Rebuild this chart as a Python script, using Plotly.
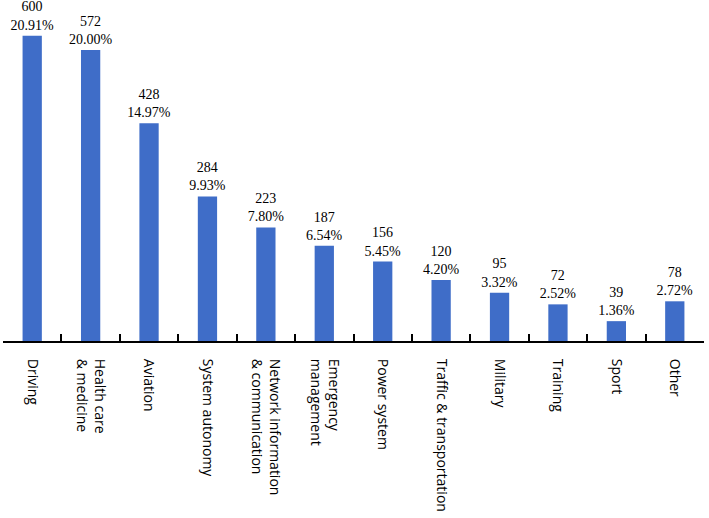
import plotly.graph_objects as go

categories = ["Driving", "Health care<br>& medicine", "Aviation", "System autonomy",
              "Network information<br>& communication", "Emergency<br>management",
              "Power system", "Traffic & transportation", "Military", "Training",
              "Sport", "Other"]
counts = [600, 572, 428, 284, 223, 187, 156, 120, 95, 72, 39, 78]
percents = ["20.91%", "20.00%", "14.97%", "9.93%", "7.80%", "6.54%", "5.45%",
            "4.20%", "3.32%", "2.52%", "1.36%", "2.72%"]

labels = [f"{c}<br>{p}" for c, p in zip(counts, percents)]

fig = go.Figure(go.Bar(
    x=categories, y=counts, text=labels, textposition="outside",
    constraintext="none", cliponaxis=False,
    textfont=dict(family="Liberation Serif", size=14, color="black"),
    marker=dict(color="#3F6DC8", line=dict(width=0)),
    width=0.33,
))

fig.update_layout(
    width=709, height=518,
    margin=dict(l=3, r=5, t=0, b=177),
    plot_bgcolor="white", paper_bgcolor="white",
    showlegend=False,
    xaxis=dict(
        showline=True, linecolor="black", linewidth=2,
        ticks="inside", tickson="boundaries", ticklen=7, tickwidth=2, tickcolor="black",
        tickangle=90, ticklabelstandoff=13, automargin=False,
        tickfont=dict(family="Open Sans", size=14, color="black"),
        showgrid=False,
    ),
    yaxis=dict(visible=False, range=[0, 670], showgrid=False, automargin=False),
)

fig.write_html("out.html")
